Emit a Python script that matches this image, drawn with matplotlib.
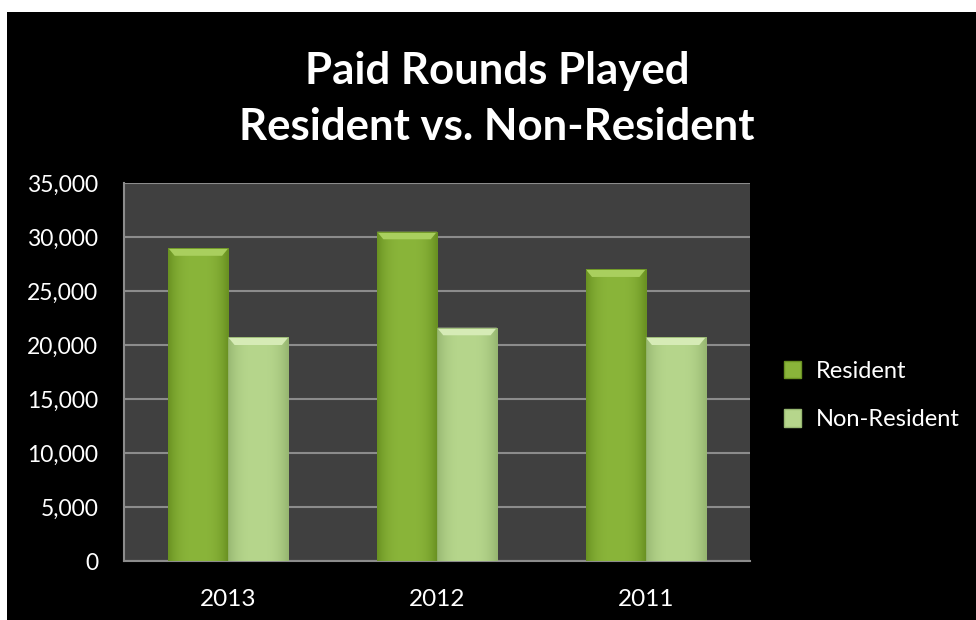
import matplotlib.pyplot as plt
import numpy as np
from matplotlib.colors import to_rgb
from matplotlib.patches import Rectangle

years = ['2013', '2012', '2011']
resident = [28960, 30490, 27000]
non_resident = [20700, 21600, 20700]

series = [
    ('Resident', resident, '#8ab53a', '#6a9222', '#a9cf5e'),
    ('Non-Resident', non_resident, '#b6d68c', '#98b872', '#d6ebb6'),
]

plt.rcParams['font.family'] = ['Lato', 'DejaVu Sans']

fig = plt.figure(figsize=(9.76, 6.2), dpi=100, facecolor='white')
# black slide background, leaving a thin white edge at top and left
fig.patches.append(Rectangle((7 / 976, 0), 1, 1 - 12 / 620, transform=fig.transFigure,
                             facecolor='black', edgecolor='none', zorder=-5))

ax = fig.add_axes([124 / 976, 59 / 620, 626 / 976, 378 / 620])
ax.set_facecolor('#404040')

x = np.arange(len(years))
width = 0.287


def shaded_bar(ax, xc, h, base, edge, cap):
    # horizontal shading: darker at the sides, lighter in the middle
    bar = ax.bar(xc, h, width, color=base, edgecolor=edge, linewidth=0.6, zorder=3)[0]
    t = np.linspace(-1, 1, 64)
    w = np.abs(t) ** 3
    c0, c1 = np.array(to_rgb(base)), np.array(to_rgb(edge))
    img = (1 - w)[:, None] * c0 + w[:, None] * c1
    im = ax.imshow(img[None, :, :], extent=(xc - width / 2, xc + width / 2, 0, h),
                   aspect='auto', zorder=3, interpolation='bilinear')
    im.set_clip_path(bar)
    # bevelled top cap
    capd = 700
    ax.fill([xc - width / 2, xc + width / 2, xc + width / 2 - 0.03, xc - width / 2 + 0.03],
            [h, h, h - capd, h - capd], color=cap, zorder=4, linewidth=0)
    ax.bar(xc, h, width, color='none', edgecolor=edge, linewidth=0.6, zorder=5)
    return bar


handles = []
for i, (name, vals, base, edge, cap) in enumerate(series):
    offs = (i - 0.5) * width
    for xi, v in zip(x, vals):
        shaded_bar(ax, xi + offs, v, base, edge, cap)
    handles.append(Rectangle((0, 0), 1, 1, facecolor=base, edgecolor=edge, label=name))

ax.set_xlim(-0.5, 2.5)
ax.set_ylim(0, 35000)
ax.set_yticks(np.arange(0, 35001, 5000))
ax.set_yticklabels([f'{v:,}' for v in range(0, 35001, 5000)])
ax.set_xticks(x)
ax.set_xticklabels(years)
ax.yaxis.grid(True, color='#8c8c8c', linewidth=1.5, zorder=1)
ax.set_axisbelow(True)

for s in ['top', 'right']:
    ax.spines[s].set_visible(False)
for s in ['left', 'bottom']:
    ax.spines[s].set_color('#8c8c8c')
    ax.spines[s].set_linewidth(1.5)

ax.tick_params(axis='y', length=0, labelsize=16.5, pad=18.5, labelcolor='white')
ax.tick_params(axis='x', length=0, labelsize=17.5, pad=20, labelcolor='white')

fig.text(0.509, 0.885, 'Paid Rounds Played', color='white', fontsize=31.5,
         fontweight='bold', ha='center', va='center')
fig.text(0.509, 0.795, 'Resident vs. Non-Resident', color='white', fontsize=31.5,
         fontweight='bold', ha='center', va='center')

fig.legend(handles=handles, loc='center left', bbox_to_anchor=(0.781, 0.362),
           frameon=False, fontsize=17, labelcolor='white', handlelength=0.75,
           handleheight=0.75, labelspacing=1.15, handletextpad=0.6)

fig.savefig('out.png', dpi=100, facecolor=fig.get_facecolor())
